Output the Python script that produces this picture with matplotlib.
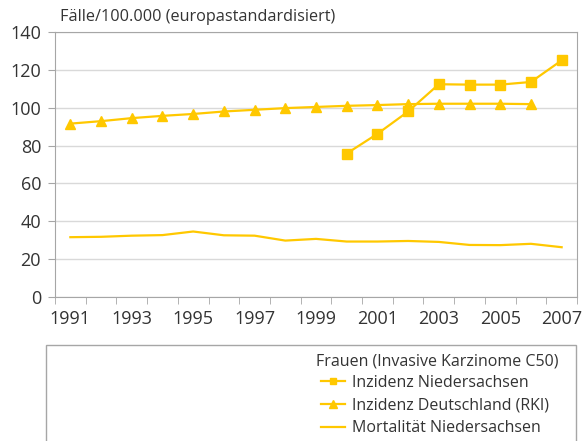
import matplotlib
matplotlib.use('Agg')
import matplotlib.pyplot as plt
from matplotlib.patches import Rectangle
from matplotlib.ticker import FixedLocator

plt.rcParams['font.family'] = ['Open Sans', 'DejaVu Sans']

years = list(range(1991, 2008))
# Inzidenz Deutschland (RKI), 1991-2006
rki = [91.6, 92.9, 94.5, 95.7, 96.7, 98.0, 98.9, 99.8, 100.4, 101.0, 101.4, 101.9, 102.1, 102.1, 102.1, 101.9]
# Inzidenz Niedersachsen, 2000-2007
nds_years = list(range(2000, 2008))
nds = [75.8, 86.2, 98.0, 112.4, 112.2, 112.2, 113.6, 125.0]
# Mortalitaet Niedersachsen, 1991-2007
mort = [31.6, 31.8, 32.4, 32.7, 34.6, 32.6, 32.4, 29.8, 30.7, 29.3, 29.3, 29.6, 29.1, 27.5, 27.4, 28.1, 26.3]

yellow = '#FFC800'
grey = '#A6A6A6'
txt = '#333333'

fig = plt.figure(figsize=(5.84, 4.41), dpi=100)
ax = fig.add_axes([55/584, 1-297/441, 522/584, 265/441])

ax.plot(years[:len(rki)], rki, color=yellow, lw=1.6, marker='^', ms=7.5,
        label='Inzidenz Deutschland (RKI)', zorder=3)
ax.plot(nds_years, nds, color=yellow, lw=1.6, marker='s', ms=7,
        label='Inzidenz Niedersachsen', zorder=4)
ax.plot(years, mort, color=yellow, lw=1.6, label='Mortalität Niedersachsen', zorder=3)

ax.set_xlim(1990.5, 2007.5)
ax.set_ylim(0, 140)
ax.set_yticks(range(0, 141, 20))
ax.set_xticks(years[::2])
ax.xaxis.set_minor_locator(FixedLocator([y - 0.5 for y in years] + [2007.5]))
ax.tick_params(axis='x', which='major', length=0, labelsize=13, colors=txt, pad=9)
ax.tick_params(axis='x', which='minor', length=5, color=grey, direction='out')
ax.tick_params(axis='y', length=5, color=grey, labelsize=13, labelcolor=txt, pad=5)
ax.grid(axis='y', color='#D9D9D9', lw=1)
ax.set_axisbelow(True)
for s in ax.spines.values():
    s.set_color(grey)

fig.text(60/584, 1-17/441, 'Fälle/100.000 (europastandardisiert)', fontsize=11.7,
         color=txt, va='center')

# legend box, open at the bottom
fig.patches.append(Rectangle((46/584, -0.1), 530/584, 0.1 + 1 - 345/441,
                             transform=fig.transFigure, fill=False,
                             edgecolor=grey, lw=1))

fig.text(316/584, 1-361/441, 'Frauen (Invasive Karzinome C50)', fontsize=11.5,
         color=txt, va='center')

h, l = ax.get_legend_handles_labels()
order = [1, 0, 2]
leg = fig.legend([h[i] for i in order], [l[i] for i in order],
                 loc='upper left', bbox_to_anchor=(321/584, 1-375/441),
                 frameon=False, fontsize=11.5, handlelength=1.5,
                 handletextpad=0.45, labelspacing=0.42, markerscale=0.7,
                 borderpad=0, borderaxespad=0)
for t in leg.get_texts():
    t.set_color(txt)

fig.savefig('out.png', dpi=100)
